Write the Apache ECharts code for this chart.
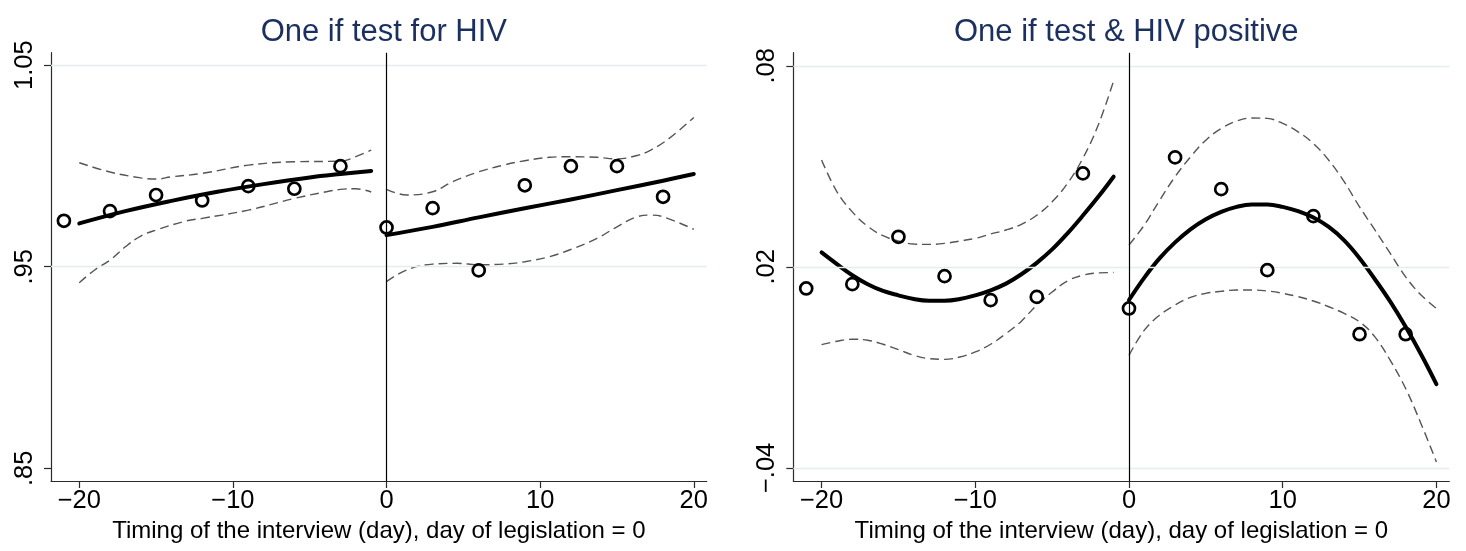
<!DOCTYPE html>
<html>
<head>
<meta charset="utf-8">
<script src="https://cdn.jsdelivr.net/npm/echarts@6/dist/echarts.min.js"></script>
<style>
  html, body { margin: 0; padding: 0; background: #fff; }
  #chart { width: 1466px; height: 551px; }
</style>
</head>
<body>
<div id="chart"></div>
<script>
// ---- Data -------------------------------------------------------------
// Day of interview relative to legislation (bin midpoints of the scatter)
const obsDays = [-21, -18, -15, -12, -9, -6, -3, 0, 3, 6, 9, 12, 15, 18];

// Panel 1: one if tested for HIV (binned means)
const testMeans = [0.9728, 0.9776, 0.9856, 0.9829, 0.9900, 0.9887, 0.9999,
                   0.9695, 0.9791, 0.9482, 0.9904, 0.9999, 0.9999, 0.9847];

// Panel 1: fitted values and 95% bands, [day, value]
const testFitPre  = [[-20, 0.9715], [-17, 0.9776], [-14, 0.9827], [-11, 0.9872],
                     [-8, 0.9910], [-5, 0.9943], [-3, 0.9960], [-1, 0.9975]];
const testFitPost = [[0, 0.9657], [3, 0.9698], [6, 0.9745], [9, 0.9790],
                     [12, 0.9834], [15, 0.9880], [18, 0.9927], [20, 0.9960]];
const testHiPre   = [[-20, 1.0016], [-18, 0.9970], [-16, 0.9941], [-15, 0.9935],
                     [-14, 0.9946], [-12, 0.9963], [-9, 1.0004], [-6, 1.0021],
                     [-3, 1.0024], [-2, 1.0046], [-1, 1.0079]];
const testLoPre   = [[-20, 0.9421], [-19, 0.9484], [-18, 0.9533], [-17, 0.9599],
                     [-16, 0.9652], [-15, 0.9682], [-13, 0.9728], [-12, 0.9740],
                     [-9, 0.9781], [-6, 0.9839], [-4, 0.9871], [-3, 0.9884],
                     [-2, 0.9887], [-1, 0.9871]];
const testHiPost  = [[0, 0.9884], [1.3, 0.9856], [3, 0.9872], [4.3, 0.9922],
                     [6, 0.9971], [7.6, 1.0004], [9, 1.0026], [10.6, 1.0043],
                     [12, 1.0046], [13.7, 1.0043], [15, 1.0035], [16.3, 1.0052],
                     [17.2, 1.0079], [18.4, 1.0137], [20, 1.0241]];
const testLoPost  = [[0, 0.9426], [1.3, 0.9484], [3, 0.9513], [4.6, 0.9517],
                     [6, 0.9510], [7.6, 0.9513], [9, 0.9525], [10.6, 0.9550],
                     [12, 0.9586], [13.7, 0.9641], [15, 0.9698], [16.3, 0.9748],
                     [17.2, 0.9756], [18, 0.9748], [20, 0.9686]];

// Panel 2: one if tested and HIV positive (binned means)
const posMeans = [0.01355, 0.01484, 0.02896, 0.01722, 0.01006, 0.01104, 0.04788,
                  0.00758, 0.05266, 0.04319, 0.01901, 0.03513, -0.00009, -0.00009];

// Panel 2: fitted values and 95% bands on a daily grid
const daysPre  = [-20, -19, -18, -17, -16, -15, -14, -13, -12, -11,
                  -10, -9, -8, -7, -6, -5, -4, -3, -2, -1];
const daysPost = [0, 1, 2, 3, 4, 5, 6, 7, 8, 9, 10,
                  11, 12, 13, 14, 15, 16, 17, 18, 19, 20];
const posFitPre = [0.0243, 0.0208, 0.0175, 0.0148, 0.0128, 0.0115, 0.0104, 0.0099, 0.0099, 0.0104,
                   0.0115, 0.0130, 0.0150, 0.0178, 0.0212, 0.0252, 0.0300, 0.0353, 0.0409, 0.0469];
const posHiPre  = [0.0519, 0.0424, 0.0364, 0.0321, 0.0293, 0.0277, 0.0268, 0.0267, 0.0270, 0.0277,
                   0.0285, 0.0298, 0.0310, 0.0327, 0.0354, 0.0394, 0.0449, 0.0524, 0.0623, 0.0755];
const posLoPre  = [-0.0032, -0.0022, -0.0016, -0.0019, -0.0031, -0.0047, -0.0064, -0.0074, -0.0076, -0.0069,
                   -0.0054, -0.0031, 0.0001, 0.0038, 0.0086, 0.0125, 0.0158, 0.0175, 0.0182, 0.0183];
const posFitPost = [0.0101, 0.0168, 0.0226, 0.0273, 0.0312, 0.0342, 0.0364, 0.0379, 0.0386, 0.0386, 0.0379,
                    0.0366, 0.0347, 0.0319, 0.0279, 0.0226, 0.0163, 0.0096, 0.0021, -0.0061, -0.0150];
const posHiPost  = [0.0265, 0.0325, 0.0399, 0.0469, 0.0528, 0.0578, 0.0613, 0.0635, 0.0644, 0.0643, 0.0628,
                    0.0603, 0.0568, 0.0518, 0.0454, 0.0379, 0.0310, 0.0240, 0.0170, 0.0116, 0.0076];
const posLoPost  = [-0.0064, 0.0011, 0.0056, 0.0086, 0.0109, 0.0121, 0.0127, 0.0131, 0.0131, 0.0128, 0.0121,
                    0.0111, 0.0098, 0.0081, 0.0061, 0.0036, -0.0009, -0.0079, -0.0163, -0.0268, -0.0382];

// Axis ticks and labels
const xTicks = [-20, -10, 0, 10, 20];
const yTicksTest = [0.85, 0.95, 1.05];
const yTextTest  = ['.85', '.95', '1.05'];
const yTicksPos  = [-0.04, 0.02, 0.08];
const yTextPos   = ['\u2212.04', '.02', '.08'];
const gridTest = [0.95, 1.05];
const gridPos  = [-0.04, 0.02, 0.08];

const titles = ['One if test for HIV', 'One if test & HIV positive'];
const xTitle = 'Timing of the interview (day), day of legislation = 0';

// ---- Chart ------------------------------------------------------------
const FONT = '"Liberation Sans", Arial, Helvetica, sans-serif';
const AXIS_COLOR = '#2b2b2b';
const pairs = (xs, ys) => xs.map((x, i) => [x, ys[i]]);

const panels = [
  { left: 51,    width: 655.7, yMin: 0.8437,  yMax: 1.0562, ticks: yTicksTest, text: yTextTest, grid: gridTest },
  { left: 793.3, width: 656,   yMin: -0.0439, yMax: 0.0839, ticks: yTicksPos,  text: yTextPos,  grid: gridPos }
];

const xAxes = panels.map((p, i) => ({
  gridIndex: i, type: 'value', min: -21.84, max: 20.84,
  axisLine: { onZero: false, lineStyle: { color: AXIS_COLOR, width: 1.2 } },
  axisTick: { show: true, length: 7, customValues: xTicks, lineStyle: { color: AXIS_COLOR, width: 1.2 } },
  axisLabel: {
    customValues: xTicks, margin: 7, color: '#000', fontSize: 25.5, fontFamily: FONT,
    formatter: v => (v < 0 ? '\u2212' + Math.abs(v) : String(v))
  },
  splitLine: { show: false },
  name: xTitle, nameLocation: 'middle', nameGap: 36,
  nameTextStyle: { color: '#000', fontSize: 24, fontFamily: FONT }
}));

const yAxes = panels.map((p, i) => ({
  gridIndex: i, type: 'value', min: p.yMin, max: p.yMax,
  axisLine: { onZero: false, lineStyle: { color: AXIS_COLOR, width: 1.2 } },
  axisTick: { show: true, length: 7, customValues: p.ticks, lineStyle: { color: AXIS_COLOR, width: 1.2 } },
  axisLabel: {
    customValues: p.ticks, rotate: 90, margin: 13, color: '#000', fontSize: 25.5, fontFamily: FONT,
    formatter: v => {
      const k = p.ticks.findIndex(t => Math.abs(t - v) < 1e-9);
      return k >= 0 ? p.text[k] : '';
    }
  },
  splitLine: { show: false }
}));

function lineSeries(idx, data, kind) {
  const fit = kind === 'fit';
  return {
    type: 'line', xAxisIndex: idx, yAxisIndex: idx, data,
    showSymbol: false, symbol: 'none', smooth: 0.4, silent: true, z: fit ? 4 : 3,
    lineStyle: fit
      ? { color: '#000', width: 4, cap: 'round', join: 'round' }
      : { color: '#555', width: 1.4, type: [9, 5] }
  };
}

function refLines(idx, values) {
  return {
    type: 'line', xAxisIndex: idx, yAxisIndex: idx, data: [], silent: true, z: 1,
    markLine: {
      symbol: 'none', silent: true, label: { show: false },
      lineStyle: { color: '#e4ecef', width: 1.3, type: 'solid' },
      data: values.map(v => ({ yAxis: v }))
    }
  };
}

function zeroLine(idx) {
  return {
    type: 'line', xAxisIndex: idx, yAxisIndex: idx, data: [], silent: true, z: 2,
    markLine: {
      symbol: 'none', silent: true, label: { show: false },
      lineStyle: { color: '#000', width: 1.2, type: 'solid' },
      data: [{ xAxis: 0 }]
    }
  };
}

function scatterSeries(idx, ys) {
  return {
    type: 'scatter', xAxisIndex: idx, yAxisIndex: idx, data: pairs(obsDays, ys),
    symbol: 'circle', symbolSize: 12, silent: true, z: 5,
    itemStyle: { color: 'rgba(0,0,0,0)', borderColor: '#000', borderWidth: 2.7, opacity: 1 }
  };
}

const series = [
  refLines(0, gridTest), zeroLine(0),
  lineSeries(0, testHiPre, 'ci'), lineSeries(0, testLoPre, 'ci'),
  lineSeries(0, testHiPost, 'ci'), lineSeries(0, testLoPost, 'ci'),
  lineSeries(0, testFitPre, 'fit'), lineSeries(0, testFitPost, 'fit'),
  scatterSeries(0, testMeans),

  refLines(1, gridPos), zeroLine(1),
  lineSeries(1, pairs(daysPre, posHiPre), 'ci'), lineSeries(1, pairs(daysPre, posLoPre), 'ci'),
  lineSeries(1, pairs(daysPost, posHiPost), 'ci'), lineSeries(1, pairs(daysPost, posLoPost), 'ci'),
  lineSeries(1, pairs(daysPre, posFitPre), 'fit'), lineSeries(1, pairs(daysPost, posFitPost), 'fit'),
  scatterSeries(1, posMeans)
];

const chart = echarts.init(document.getElementById('chart'), null, { renderer: 'canvas' });
chart.setOption({
  animation: false,
  backgroundColor: '#fff',
  title: panels.map((p, i) => ({
    text: titles[i], left: p.left + p.width / 2, top: 12, textAlign: 'center',
    textStyle: { color: '#1c305f', fontSize: 31, fontWeight: 'normal', fontFamily: FONT }
  })),
  grid: panels.map(p => ({
    left: p.left, top: 52.7, width: p.width, height: 428.3,
    containLabel: false, outerBoundsMode: 'none', show: false
  })),
  xAxis: xAxes,
  yAxis: yAxes,
  series
});
</script>
</body>
</html>
